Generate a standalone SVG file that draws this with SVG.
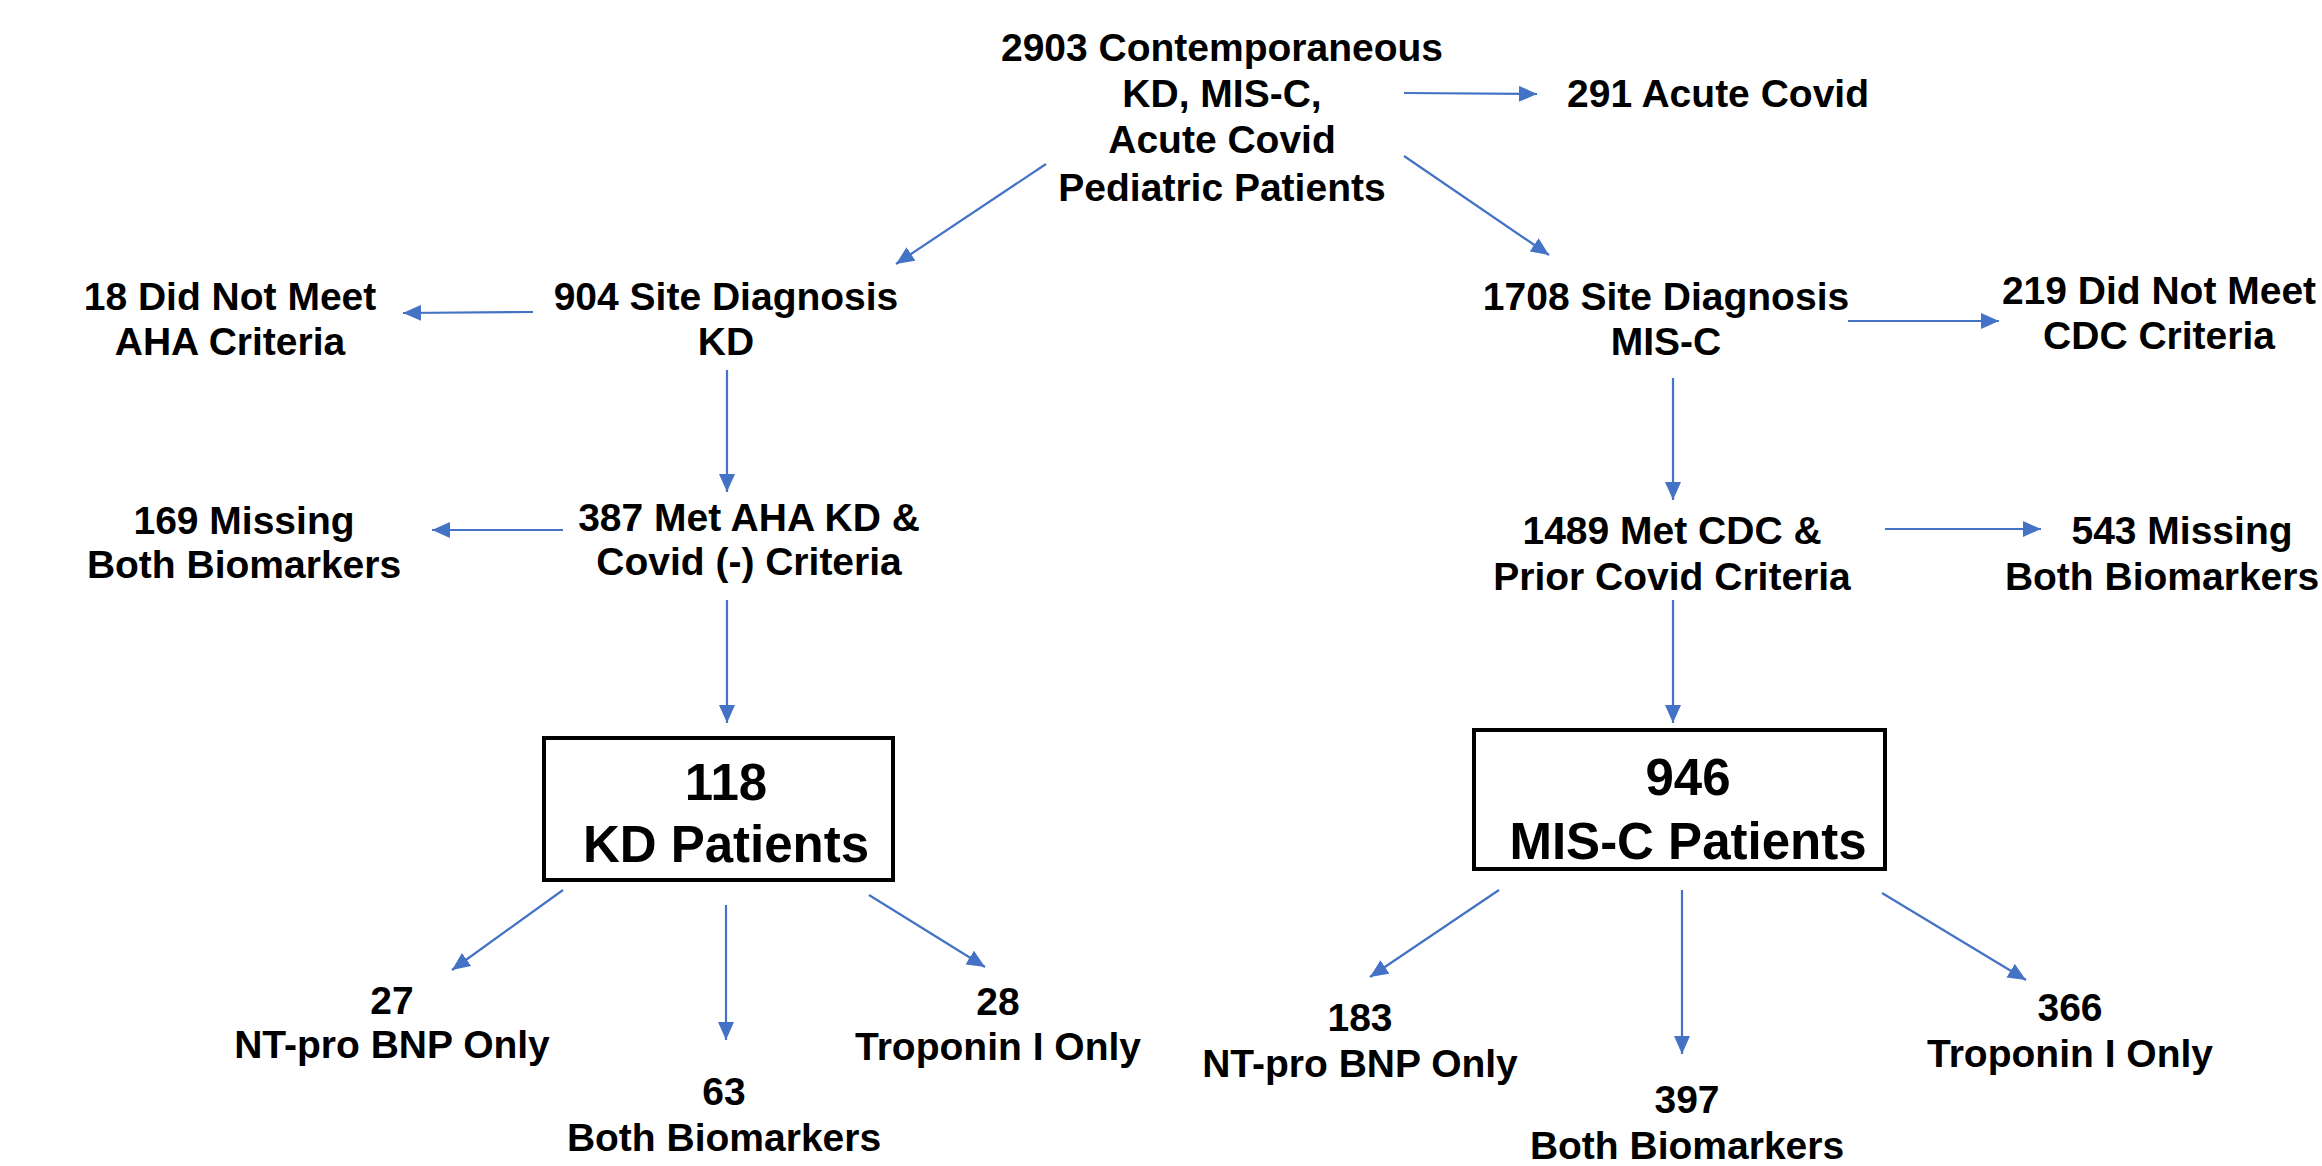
<svg xmlns="http://www.w3.org/2000/svg" width="2322" height="1166" viewBox="0 0 2322 1166">
<style>
.t{font-family:"Liberation Sans",Arial,sans-serif;font-weight:bold;font-size:39px;fill:#000;text-anchor:middle}
.b{font-family:"Liberation Sans",Arial,sans-serif;font-weight:bold;font-size:51px;fill:#000;text-anchor:middle}
.c{stroke:#4472C4;stroke-width:2.2;fill:none;marker-end:url(#ah)}
.box{fill:#fff;stroke:#000;stroke-width:4}
</style>
<defs>
<marker id="ah" markerUnits="userSpaceOnUse" markerWidth="20" markerHeight="16" viewBox="0 0 20 16" refX="18" refY="8" orient="auto">
<path d="M0,0 L18,8 L0,16 Z" fill="#4472C4"/>
</marker>
</defs>
<rect width="2322" height="1166" fill="#fff"/>
<g id="connectors">
<line class="c" x1="1404" y1="93" x2="1537" y2="94"/>
<line class="c" x1="1046" y1="164" x2="896" y2="264"/>
<line class="c" x1="1404" y1="156" x2="1549" y2="255"/>
<line class="c" x1="533" y1="312" x2="403" y2="313"/>
<line class="c" x1="1848" y1="321" x2="1999" y2="321"/>
<line class="c" x1="727" y1="370" x2="727" y2="492"/>
<line class="c" x1="1673" y1="378" x2="1673" y2="500"/>
<line class="c" x1="563" y1="530" x2="432" y2="530"/>
<line class="c" x1="1885" y1="529" x2="2041" y2="529"/>
<line class="c" x1="727" y1="600" x2="727" y2="723"/>
<line class="c" x1="1673" y1="600" x2="1673" y2="723"/>
<line class="c" x1="563" y1="890" x2="452" y2="970"/>
<line class="c" x1="726" y1="905" x2="726" y2="1040"/>
<line class="c" x1="869" y1="895" x2="985" y2="967"/>
<line class="c" x1="1499" y1="890" x2="1370" y2="977"/>
<line class="c" x1="1682" y1="890" x2="1682" y2="1054"/>
<line class="c" x1="1882" y1="893" x2="2026" y2="980"/>
</g>
<g id="n-top"><text class="t" x="1222" y="61">2903 Contemporaneous</text><text class="t" x="1222" y="107">KD, MIS-C,</text><text class="t" x="1222" y="153">Acute Covid</text><text class="t" x="1222" y="201">Pediatric Patients</text></g>
<g id="n-291"><text class="t" x="1718" y="107">291 Acute Covid</text></g>
<g id="n-904"><text class="t" x="726" y="310">904 Site Diagnosis</text><text class="t" x="726" y="355">KD</text></g>
<g id="n-18"><text class="t" x="230" y="310">18 Did Not Meet</text><text class="t" x="230" y="355">AHA Criteria</text></g>
<g id="n-1708"><text class="t" x="1666" y="310">1708 Site Diagnosis</text><text class="t" x="1666" y="355">MIS-C</text></g>
<g id="n-219"><text class="t" x="2159" y="304">219 Did Not Meet</text><text class="t" x="2159" y="349">CDC Criteria</text></g>
<g id="n-387"><text class="t" x="749" y="531">387 Met AHA KD &amp;</text><text class="t" x="749" y="575">Covid (-) Criteria</text></g>
<g id="n-169"><text class="t" x="244" y="534">169 Missing</text><text class="t" x="244" y="578">Both Biomarkers</text></g>
<g id="n-1489"><text class="t" x="1672" y="544">1489 Met CDC &amp;</text><text class="t" x="1672" y="590">Prior Covid Criteria</text></g>
<g id="n-543"><text class="t" x="2182" y="544">543 Missing</text><text class="t" x="2162" y="590">Both Biomarkers</text></g>
<g id="n-118"><rect class="box" x="544" y="738" width="349" height="142"/><text class="b" x="726" y="800">118</text><text class="b" x="726" y="862">KD Patients</text></g>
<g id="n-946"><rect class="box" x="1474" y="730" width="411" height="139"/><text class="b" x="1688" y="795">946</text><text class="b" x="1688" y="859">MIS-C Patients</text></g>
<g id="n-27"><text class="t" x="392" y="1014">27</text><text class="t" x="392" y="1058">NT-pro BNP Only</text></g>
<g id="n-63"><text class="t" x="724" y="1105">63</text><text class="t" x="724" y="1151">Both Biomarkers</text></g>
<g id="n-28"><text class="t" x="998" y="1015">28</text><text class="t" x="998" y="1060">Troponin I Only</text></g>
<g id="n-183"><text class="t" x="1360" y="1031">183</text><text class="t" x="1360" y="1077">NT-pro BNP Only</text></g>
<g id="n-397"><text class="t" x="1687" y="1113">397</text><text class="t" x="1687" y="1159">Both Biomarkers</text></g>
<g id="n-366"><text class="t" x="2070" y="1021">366</text><text class="t" x="2070" y="1067">Troponin I Only</text></g>
</svg>
